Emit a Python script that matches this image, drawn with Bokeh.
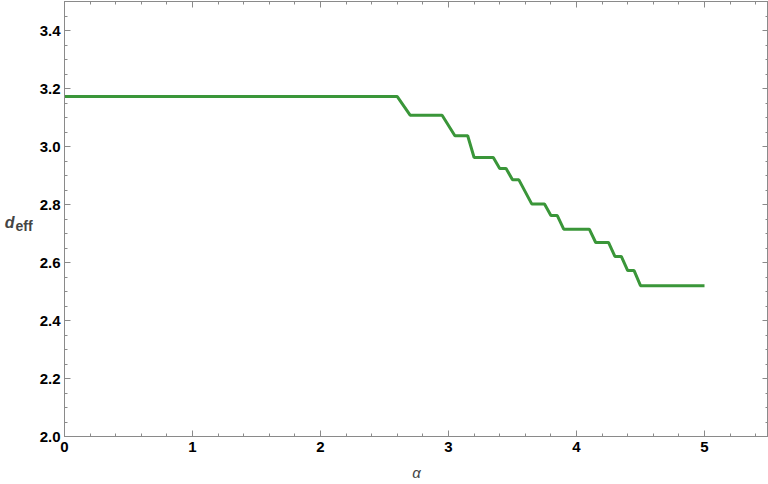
from bokeh.plotting import figure
from bokeh.models import LinearAxis, Range1d, FixedTicker, NumeralTickFormatter, CustomJSTickFormatter
from bokeh.embed import file_html
from bokeh.resources import INLINE

alpha = [0.0, 2.60, 2.70, 2.95, 3.05, 3.15, 3.20, 3.35, 3.40, 3.45, 3.50, 3.55,
         3.65, 3.75, 3.80, 3.85, 3.90, 4.10, 4.15, 4.25, 4.30, 4.35, 4.40, 4.45,
         4.50, 5.00]
d_eff = [3.172, 3.172, 3.108, 3.108, 3.037, 3.037, 2.962, 2.962, 2.924, 2.924,
         2.885, 2.885, 2.802, 2.802, 2.762, 2.762, 2.715, 2.715, 2.669, 2.669,
         2.621, 2.621, 2.572, 2.572, 2.520, 2.520]

x_ticks = [0, 1, 2, 3, 4, 5]
y_ticks = [2.0, 2.2, 2.4, 2.6, 2.8, 3.0, 3.2, 3.4]
x_minor = [i * 0.2 for i in range(28)]
y_minor = [2.0 + i * 0.05 for i in range(31)]

AXC = "#8a8a8a"
FONT = "Liberation Sans"

p = figure(width=768, height=484, output_backend="svg", toolbar_location=None,
           x_range=Range1d(0, 5.5), y_range=Range1d(2.0, 3.5),
           min_border_left=64, min_border_right=0, min_border_top=1,
           min_border_bottom=48)
p.xgrid.visible = False
p.ygrid.visible = False
p.outline_line_color = AXC
p.background_fill_color = "white"
p.border_fill_color = "white"

def style(ax, labels=True):
    ax.axis_line_color = AXC
    ax.major_tick_line_color = AXC
    ax.minor_tick_line_color = AXC
    ax.major_tick_in = 6
    ax.major_tick_out = 0
    ax.minor_tick_in = 3
    ax.minor_tick_out = 0
    ax.major_label_text_font = FONT
    ax.major_label_text_font_style = "bold"
    ax.major_label_text_font_size = "15px"
    ax.major_label_text_color = "black"
    ax.major_label_standoff = 5 if labels else 0
    if not labels:
        ax.formatter = CustomJSTickFormatter(code="return ''")

xa = p.xaxis[0]
ya = p.yaxis[0]
xa.ticker = FixedTicker(ticks=x_ticks, minor_ticks=x_minor)
ya.ticker = FixedTicker(ticks=y_ticks, minor_ticks=y_minor)
style(xa)
style(ya)
ya.formatter = NumeralTickFormatter(format="0.0")
ya.major_label_standoff = 4

xa.axis_label = "α"
xa.axis_label_text_font = FONT
xa.axis_label_text_font_style = "italic"
xa.axis_label_text_font_size = "15px"
xa.axis_label_standoff = 9

# subscript part of the y label sits on the inner axis, "d" on an outer, bare axis
ya.axis_label = "\neff"
ya.axis_label_orientation = "horizontal"
ya.axis_label_text_font = FONT
ya.axis_label_text_font_style = "bold"
ya.axis_label_text_font_size = "14px"
ya.axis_label_text_line_height = 0.9
ya.axis_label_standoff = 4

outer = LinearAxis(ticker=FixedTicker(ticks=[]))
outer.axis_line_color = None
outer.major_tick_line_color = None
outer.minor_tick_line_color = None
outer.formatter = CustomJSTickFormatter(code="return ''")
outer.major_label_standoff = 0
outer.major_tick_in = 0
outer.major_tick_out = 0
outer.minor_tick_in = 0
outer.minor_tick_out = 0
outer.axis_label = "\nd"
outer.axis_label_orientation = "horizontal"
outer.axis_label_text_font = FONT
outer.axis_label_text_font_style = "bold italic"
outer.axis_label_text_font_size = "16px"
outer.axis_label_text_line_height = 0.4
outer.axis_label_standoff = -2
p.add_layout(outer, "left")

top = LinearAxis(ticker=FixedTicker(ticks=x_ticks, minor_ticks=x_minor))
right = LinearAxis(ticker=FixedTicker(ticks=y_ticks, minor_ticks=y_minor))
style(top, labels=False)
style(right, labels=False)
p.add_layout(top, "above")
p.add_layout(right, "right")

p.line(alpha, d_eff, line_color="#3a9639", line_width=3)

open("out.html", "w").write(file_html(p, INLINE))
